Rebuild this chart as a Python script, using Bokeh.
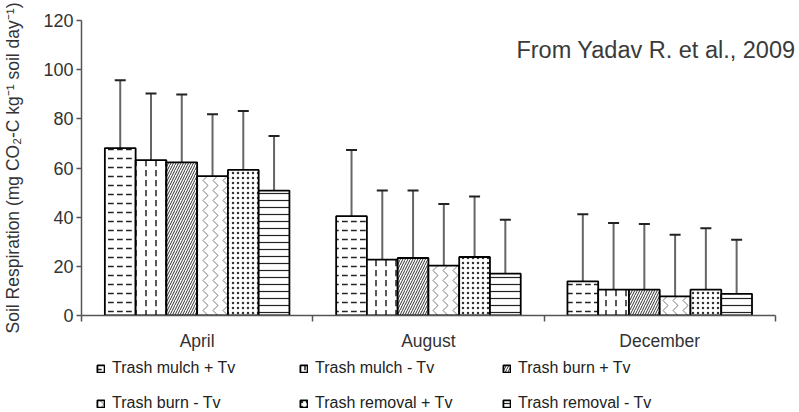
from bokeh.plotting import figure
from bokeh.layouts import column
from bokeh.models import (Whisker, TeeHead, Legend, LegendItem, FixedTicker,
                          Label, ColumnDataSource, Range1d)
from bokeh.embed import file_html
from bokeh.resources import INLINE

months = ["April", "August", "December"]
treatments = ["Trash mulch + Tv", "Trash mulch - Tv", "Trash burn + Tv",
              "Trash burn - Tv", "Trash removal + Tv", "Trash removal - Tv"]

# mean soil respiration per month (April, August, December)
mulch_plus_tv = [68.1, 40.4, 13.9]
mulch_minus_tv = [63.2, 22.7, 10.5]
burn_plus_tv = [62.3, 23.4, 10.5]
burn_minus_tv = [56.7, 20.3, 7.8]
removal_plus_tv = [59.2, 23.8, 10.5]
removal_minus_tv = [50.8, 17.0, 8.8]

# upper error (SD)
sd_mulch_plus_tv = [27.6, 26.9, 27.3]
sd_mulch_minus_tv = [27.1, 28.1, 27.1]
sd_burn_plus_tv = [27.6, 27.4, 26.7]
sd_burn_minus_tv = [25.2, 25.1, 25.0]
sd_removal_plus_tv = [24.0, 24.6, 25.0]
sd_removal_minus_tv = [22.2, 21.9, 22.0]

y_ticks = [0, 20, 40, 60, 80, 100, 120]

means = [mulch_plus_tv, mulch_minus_tv, burn_plus_tv, burn_minus_tv,
         removal_plus_tv, removal_minus_tv]
sds = [sd_mulch_plus_tv, sd_mulch_minus_tv, sd_burn_plus_tv, sd_burn_minus_tv,
       sd_removal_plus_tv, sd_removal_minus_tv]

hatches = [("horizontal_dash", 9, 1.5, "#222222"),
           ("vertical_dash", 10, 1.5, "#222222"),
           ("right_diagonal_line", 5, 1.0, "#333333"),
           ("vertical_wave", 10, 0.8, "#555555"),
           ("dot", 5, 1.0, "#333333"),
           ("horizontal_line", 7, 1.2, "#222222")]

FONT = "Liberation Sans"
TXT = "#333333"
AX = "#555555"

p = figure(width=799, height=353, x_range=Range1d(0, 3.1), y_range=Range1d(0, 120),
           output_backend="svg", toolbar_location=None,
           min_border_left=78, min_border_right=1, min_border_top=20,
           min_border_bottom=37)
p.outline_line_color = None
p.xgrid.visible = False
p.ygrid.visible = False

# legend strip below the chart: the bars drawn here lie out of view and
# behind the opaque legend box; only the legend swatches show
p2 = figure(width=799, height=59, x_range=Range1d(-2, 6), y_range=Range1d(5000, 5001),
            output_backend="svg", toolbar_location=None,
            x_axis_location=None, y_axis_location=None,
            min_border_left=78, min_border_right=1, min_border_top=0,
            min_border_bottom=0)
p2.outline_line_color = None
p2.xgrid.visible = False
p2.ygrid.visible = False

bar_w = 0.133
items = []
for j, (name, m, s) in enumerate(zip(treatments, means, sds)):
    xs = [i + 0.5 + (j - 2.5) * bar_w for i in range(len(months))]
    src = ColumnDataSource(dict(x=xs, top=m, upper=[a + b for a, b in zip(m, s)]))
    pat, sc, wt, hc = hatches[j]
    style = dict(fill_color="white", line_color="black", line_width=1.8,
                 hatch_pattern=pat, hatch_scale=sc, hatch_weight=wt,
                 hatch_color=hc)
    p.vbar(x="x", top="top", bottom=0, width=bar_w, source=src, **style)
    w = Whisker(source=src, base="x", lower="top", upper="upper",
                dimension="height", line_color="#666666", line_width=2,
                upper_head=TeeHead(size=11, line_color="#222222", line_width=2),
                lower_head=None)
    p.add_layout(w)
    r2 = p2.vbar(x="x", top="top", bottom=0, width=bar_w, source=src, **style)
    items.append(LegendItem(label=name, renderers=[r2]))

# y axis
ya = p.yaxis[0]
ya.ticker = FixedTicker(ticks=y_ticks, minor_ticks=[])
ya.axis_label = "Soil Respiration (mg CO\u2082-C kg\u207b\u00b9 soil day\u207b\u00b9)"
ya.axis_label_text_font = FONT
ya.axis_label_text_font_size = "17.5px"
ya.axis_label_text_font_style = "normal"
ya.axis_label_text_color = TXT
ya.axis_label_standoff = 17
ya.major_label_text_font = FONT
ya.major_label_text_font_size = "18px"
ya.major_label_text_color = TXT
ya.major_label_standoff = 3
ya.axis_line_color = AX
ya.axis_line_width = 1.5
ya.major_tick_line_color = AX
ya.major_tick_line_width = 1.5
ya.major_tick_out = 5
ya.major_tick_in = 0

# x axis
xa = p.xaxis[0]
xa.bounds = (0, 3)
xa.ticker = FixedTicker(ticks=[0.5, 1.5, 2.5], minor_ticks=[0, 1, 2, 3])
xa.major_label_overrides = {0.5: months[0], 1.5: months[1], 2.5: months[2]}
xa.major_label_text_font = FONT
xa.major_label_text_font_size = "17.5px"
xa.major_label_text_color = TXT
xa.major_label_standoff = 9
xa.major_tick_line_color = None
xa.major_tick_out = 0
xa.major_tick_in = 0
xa.minor_tick_line_color = AX
xa.minor_tick_line_width = 1.5
xa.minor_tick_out = 6
xa.minor_tick_in = 0
xa.axis_line_color = AX
xa.axis_line_width = 1.5

legend = Legend(items=items, orientation="horizontal", ncols=3,
                location=(15, 0), padding=3, margin=0, spacing=17,
                glyph_width=9, glyph_height=9, label_standoff=7,
                label_width=170, label_height=18,
                label_text_font=FONT, label_text_font_size="16px",
                label_text_color="#222222",
                border_line_color=None, background_fill_color="white",
                background_fill_alpha=1)
p2.add_layout(legend)

title = Label(x=3.1, y=107.8, x_offset=-3, text="From Yadav R. et al., 2009",
              text_align="right", text_baseline="alphabetic",
              text_font=FONT, text_font_size="23.5px", text_color="#3a3a3a")
p.add_layout(title)

layout = column(p, p2, spacing=0)
open("out.html", "w").write(file_html(layout, INLINE))
